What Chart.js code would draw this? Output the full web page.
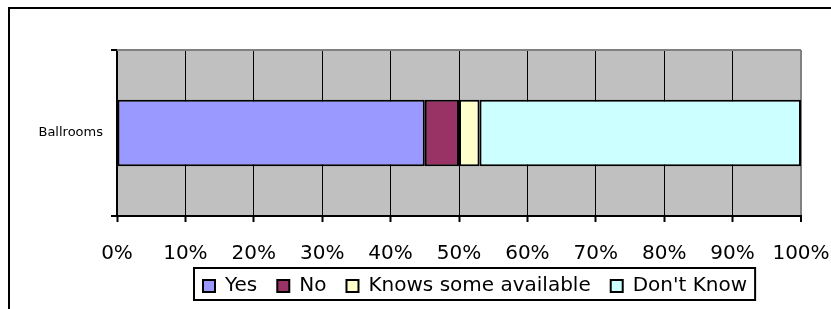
<!DOCTYPE html>
<html>
<head>
<meta charset="utf-8">
<script src="https://cdn.jsdelivr.net/npm/chart.js@4/dist/chart.umd.min.js"></script>
<style>
  html, body { margin: 0; padding: 0; background: #fff; }
  #wrap { width: 831px; height: 309px; position: relative; }
</style>
</head>
<body>
<div id="wrap"><canvas id="chart"></canvas></div>
<script>
// data
const categories = ["Ballrooms"];
const yesValues = [45];
const noValues = [5];
const knowsValues = [3];
const dontKnowValues = [47];
const seriesNames = ["Yes", "No", "Knows some available", "Don't Know"];
const seriesColors = ["#9999FF", "#993366", "#FFFFCC", "#CCFFFF"];

const FONT = "'DejaVu Sans', sans-serif";
const LEGEND_PAD = 20;
const LEGEND_LEFT = 183;
const LEGEND_TOP = 256;

// gray plot background, gray top edge, outer frame, legend frame
const decorations = {
  id: "decorations",
  afterLayout(chart) {
    // legend in the original sits right of centre and close to the bottom
    const lg = chart.legend;
    const h = lg.bottom - lg.top;
    lg.left = LEGEND_LEFT;
    lg.right = LEGEND_LEFT + chart.width;
    lg.top = LEGEND_TOP;
    lg.bottom = LEGEND_TOP + h;
  },
  beforeDraw(chart) {
    const ctx = chart.ctx;
    const a = chart.chartArea;
    ctx.save();
    ctx.fillStyle = "#fff";
    ctx.fillRect(0, 0, chart.width, chart.height);
    ctx.fillStyle = "#C0C0C0";
    ctx.fillRect(a.left, a.top, a.right - a.left, a.bottom - a.top);
    // outer frame (only top and left edges fall inside the picture)
    ctx.strokeStyle = "#000";
    ctx.lineWidth = 2;
    ctx.beginPath();
    ctx.moveTo(9, chart.height);
    ctx.lineTo(9, 8);
    ctx.lineTo(chart.width, 8);
    ctx.stroke();
    ctx.restore();
  },
  afterDraw(chart) {
    const ctx = chart.ctx;
    const a = chart.chartArea;
    ctx.save();
    ctx.strokeStyle = "#808080";
    ctx.lineWidth = 2;
    ctx.beginPath();
    ctx.moveTo(a.left, a.top);
    ctx.lineTo(a.right, a.top);
    ctx.stroke();
    // legend box
    const lg = chart.legend;
    const itemsLeft = lg.left + LEGEND_PAD;
    const rowWidth = lg.lineWidths ? lg.lineWidths[0] - LEGEND_PAD : 540;
    const x0 = itemsLeft - 9;
    const x1 = itemsLeft + rowWidth + 8;
    const y0 = lg.top + LEGEND_PAD - 8;
    const y1 = lg.top + LEGEND_PAD + 24;
    ctx.strokeStyle = "#000";
    ctx.lineWidth = 2;
    ctx.strokeRect(x0, y0, x1 - x0, y1 - y0);
    ctx.restore();
  }
};

const valueSets = [yesValues, noValues, knowsValues, dontKnowValues];

new Chart(document.getElementById("chart"), {
  type: "bar",
  data: {
    labels: categories,
    datasets: seriesNames.map((name, i) => ({
      label: name,
      data: valueSets[i],
      backgroundColor: seriesColors[i],
      borderColor: "#000",
      borderWidth: 2,
      borderSkipped: false,
      barPercentage: 0.4,
      categoryPercentage: 1.0
    }))
  },
  options: {
    indexAxis: "y",
    responsive: true,
    maintainAspectRatio: false,
    animation: false,
    layout: { padding: { top: 50, right: 0, bottom: 0, left: 0 } },
    scales: {
      x: {
        stacked: true,
        min: 0,
        max: 100,
        ticks: {
          stepSize: 10,
          color: "#000",
          padding: 20,
          font: { family: FONT, size: 20 },
          callback: v => v + "%",
          maxRotation: 0
        },
        grid: {
          color: c => (c.index === 10 ? "#808080" : "#000"),
          lineWidth: c => (c.index === 10 ? 2 : 1),
          tickColor: "#000",
          tickLength: 6,
          tickWidth: 2
        },
        border: { color: "#000", width: 2 },
        afterFit: s => { s.height = 43; s.paddingRight = 30; }
      },
      y: {
        stacked: true,
        ticks: {
          color: "#000",
          padding: 8,
          font: { family: FONT, size: 13 }
        },
        grid: {
          drawOnChartArea: false,
          color: "#000",
          tickLength: 6,
          lineWidth: 2
        },
        border: { color: "#000", width: 2 },
        afterFit: s => { s.width = 117; }
      }
    },
    plugins: {
      legend: {
        position: "bottom",
        align: "start",
        labels: {
          color: "#000",
          boxWidth: 12,
          boxHeight: 12,
          padding: LEGEND_PAD,
          font: { family: FONT, size: 20 },
          generateLabels: chart => chart.data.datasets.map((d, i) => ({
            text: d.label,
            fillStyle: d.backgroundColor,
            strokeStyle: "#000",
            lineWidth: 2,
            datasetIndex: i,
            hidden: false,
            fontColor: "#000"
          }))
        }
      },
      tooltip: { enabled: false }
    }
  },
  plugins: [decorations]
});
</script>
</body>
</html>
